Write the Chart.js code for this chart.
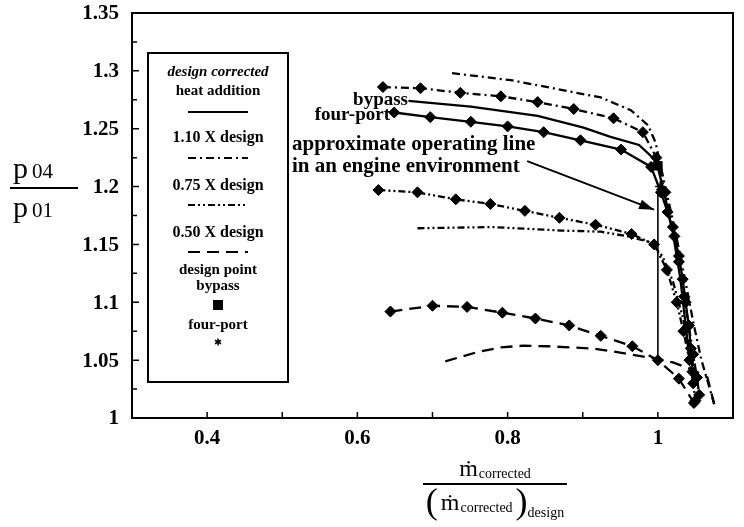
<!DOCTYPE html>
<html>
<head>
<meta charset="utf-8">
<script src="https://cdn.jsdelivr.net/npm/chart.js@4"></script>
<style>
  html, body { margin: 0; padding: 0; background: #fff; }
</style>
</head>
<body>
<canvas id="perfChart" width="744" height="527"></canvas>
<script>
// Mass flow ratio (x) vs. pressure ratio p04/p01 (y)

// design heat addition
const designBypassX   = [0.668, 0.751, 0.840, 0.901, 0.937, 0.975, 0.998, 1.010, 1.020, 1.030, 1.037, 1.042];
const designBypassY   = [1.274, 1.269, 1.261, 1.251, 1.243, 1.236, 1.222, 1.190, 1.160, 1.120, 1.080, 1.050];
const designFourPortX = [0.649, 0.697, 0.751, 0.800, 0.848, 0.897, 0.951, 0.991, 1.004, 1.013, 1.022, 1.028, 1.033, 1.037, 1.041, 1.044, 1.046];
const designFourPortY = [1.264, 1.260, 1.256, 1.252, 1.247, 1.240, 1.232, 1.217, 1.195, 1.178, 1.157, 1.140, 1.120, 1.100, 1.080, 1.060, 1.040];

// 1.10 X design
const high110BypassX   = [0.726, 0.804, 0.884, 0.924, 0.964, 0.987, 0.997, 1.008, 1.022, 1.036, 1.048, 1.058, 1.067, 1.075];
const high110BypassY   = [1.298, 1.292, 1.282, 1.277, 1.266, 1.253, 1.238, 1.205, 1.165, 1.120, 1.080, 1.050, 1.030, 1.012];
const high110FourPortX = [0.634, 0.684, 0.737, 0.791, 0.840, 0.888, 0.941, 0.980, 0.998, 1.010, 1.020, 1.028, 1.035, 1.041, 1.047, 1.052, 1.055];
const high110FourPortY = [1.286, 1.285, 1.281, 1.278, 1.273, 1.267, 1.259, 1.247, 1.225, 1.195, 1.165, 1.135, 1.105, 1.080, 1.055, 1.035, 1.020];

// 0.75 X design
const mid075FourPortX = [0.628, 0.680, 0.731, 0.777, 0.823, 0.869, 0.917, 0.965, 0.995, 1.012, 1.025, 1.034, 1.042, 1.047, 1.050];
const mid075FourPortY = [1.197, 1.195, 1.189, 1.185, 1.179, 1.173, 1.167, 1.159, 1.150, 1.128, 1.100, 1.075, 1.050, 1.030, 1.015];
const mid075BypassX   = [0.680, 0.781, 0.871, 0.924, 0.960, 0.990, 1.006, 1.020, 1.032, 1.041, 1.048, 1.053];
const mid075BypassY   = [1.164, 1.165, 1.162, 1.161, 1.157, 1.152, 1.140, 1.118, 1.090, 1.065, 1.042, 1.025];

// 0.50 X design
const low050FourPortX = [0.644, 0.700, 0.746, 0.793, 0.837, 0.882, 0.924, 0.966, 1.000, 1.028, 1.048];
const low050FourPortY = [1.092, 1.097, 1.096, 1.091, 1.086, 1.080, 1.071, 1.062, 1.050, 1.034, 1.013];
const low050BypassX   = [0.717, 0.760, 0.791, 0.821, 0.853, 0.884, 0.915, 0.946, 0.981, 1.000, 1.020, 1.045, 1.066, 1.075];
const low050BypassY   = [1.049, 1.057, 1.061, 1.0625, 1.062, 1.061, 1.060, 1.057, 1.053, 1.051, 1.048, 1.042, 1.035, 1.012];

// design points and operating line
const designPointBypass   = [1.0, 1.218];
const designPointFourPort = [1.003, 1.200];
const operatingLineX = [1.0, 1.0];
const operatingLineY = [1.051, 1.195];
const arrowFrom = [0.826, 1.222];
const arrowTo   = [0.995, 1.180];

// tick labels
const xTickLabels = ['0.4', '0.6', '0.8', '1'];
const yTickLabels = ['1', '1.05', '1.1', '1.15', '1.2', '1.25', '1.3', '1.35'];

// line styles
const DASH_SOLID = [];
const DASH_110 = [8, 4, 2, 4];
const DASH_075 = [7, 3, 2, 3, 2, 3];
const DASH_050 = [12, 7];

const SERIF = '"Liberation Serif", "DejaVu Serif", serif';

function toPoints(xs, ys) {
    return xs.map((x, i) => ({ x: x, y: ys[i] }));
}

function curve(label, xs, ys, dash, withDiamonds) {
    return {
        label: label,
        data: toPoints(xs, ys),
        showLine: true,
        borderColor: '#000',
        borderWidth: 2.3,
        borderDash: dash,
        pointStyle: 'rectRot',
        pointRadius: withDiamonds ? 5.5 : 0,
        pointHoverRadius: 0,
        pointBackgroundColor: '#000',
        pointBorderColor: '#000',
        pointBorderWidth: 1,
        tension: 0,
        fill: false
    };
}

// draws a row of text pieces with different fonts
function drawRuns(ctx, runs, x, baseline) {
    runs.forEach(r => {
        ctx.font = r.font;
        ctx.fillText(r.t, x, baseline + (r.dy || 0));
        x += ctx.measureText(r.t).width + (r.gap || 0);
    });
}
function runsWidth(ctx, runs) {
    let w = 0;
    runs.forEach(r => { ctx.font = r.font; w += ctx.measureText(r.t).width + (r.gap || 0); });
    return w;
}

function drawAsterisk(ctx, cx, cy, r) {
    ctx.save();
    ctx.lineWidth = 1.5;
    ctx.setLineDash([]);
    ctx.beginPath();
    for (let k = 0; k < 3; k++) {
        const a = Math.PI / 2 + k * Math.PI / 3;
        ctx.moveTo(cx - r * Math.cos(a), cy - r * Math.sin(a));
        ctx.lineTo(cx + r * Math.cos(a), cy + r * Math.sin(a));
    }
    ctx.stroke();
    ctx.restore();
}

const decorations = {
    id: 'decorations',
    afterDraw(chart) {
        const ctx = chart.ctx;
        const area = chart.chartArea;
        const xs = chart.scales.x, ys = chart.scales.y;
        ctx.save();
        ctx.strokeStyle = '#000';
        ctx.fillStyle = '#000';

        // frame
        ctx.lineWidth = 2;
        ctx.strokeRect(area.left, area.top, area.right - area.left, area.bottom - area.top);

        // inward ticks
        ctx.lineWidth = 1.5;
        ctx.beginPath();
        for (let i = 0; i <= 14; i++) {
            const py = ys.getPixelForValue(1 + i * 0.025);
            const len = i % 2 === 0 ? 7 : 5;
            ctx.moveTo(area.left, py);
            ctx.lineTo(area.left + len, py);
        }
        for (let i = 0; i <= 8; i++) {
            const px = xs.getPixelForValue(0.3 + i * 0.1);
            ctx.moveTo(px, area.bottom);
            ctx.lineTo(px, area.bottom - 6);
        }
        ctx.stroke();

        // tick labels
        ctx.font = 'bold 21px ' + SERIF;
        ctx.textBaseline = 'middle';
        ctx.textAlign = 'right';
        yTickLabels.forEach(t => ctx.fillText(t, area.left - 13, ys.getPixelForValue(parseFloat(t)) + 1));
        ctx.textAlign = 'center';
        xTickLabels.forEach(t => ctx.fillText(t, xs.getPixelForValue(parseFloat(t)), area.bottom + 21));

        // annotation text
        ctx.font = 'bold 19px ' + SERIF;
        ctx.textAlign = 'right';
        ctx.fillText('bypass', 408, 100);
        ctx.fillText('four-port', 390, 115);
        ctx.textAlign = 'left';
        ctx.font = 'bold 21px ' + SERIF;
        ctx.fillText('approximate operating line', 292, 145);
        ctx.fillText('in an engine environment', 292, 167);

        // arrow to operating line
        const ax0 = xs.getPixelForValue(arrowFrom[0]), ay0 = ys.getPixelForValue(arrowFrom[1]);
        const ax1 = xs.getPixelForValue(arrowTo[0]), ay1 = ys.getPixelForValue(arrowTo[1]);
        ctx.lineWidth = 1.8;
        ctx.beginPath();
        ctx.moveTo(ax0, ay0);
        ctx.lineTo(ax1, ay1);
        ctx.stroke();
        const ang = Math.atan2(ay1 - ay0, ax1 - ax0);
        ctx.beginPath();
        ctx.moveTo(ax1, ay1);
        ctx.lineTo(ax1 - 15 * Math.cos(ang) + 5 * Math.sin(ang), ay1 - 15 * Math.sin(ang) - 5 * Math.cos(ang));
        ctx.lineTo(ax1 - 15 * Math.cos(ang) - 5 * Math.sin(ang), ay1 - 15 * Math.sin(ang) + 5 * Math.cos(ang));
        ctx.closePath();
        ctx.fill();

        // legend box
        const lx = 148, ly = 53, lw = 140, lh = 329, cx = lx + lw / 2;
        ctx.fillStyle = '#fff';
        ctx.fillRect(lx, ly, lw, lh);
        ctx.fillStyle = '#000';
        ctx.lineWidth = 2;
        ctx.strokeRect(lx, ly, lw, lh);
        ctx.textAlign = 'center';
        ctx.font = 'italic bold 15px ' + SERIF;
        ctx.fillText('design corrected', cx, 72);
        ctx.font = 'bold 15px ' + SERIF;
        ctx.fillText('heat addition', cx, 91);
        ctx.font = 'bold 16px ' + SERIF;
        ctx.fillText('1.10 X design', cx, 138);
        ctx.fillText('0.75 X design', cx, 186);
        ctx.fillText('0.50 X design', cx, 233);
        ctx.font = 'bold 15px ' + SERIF;
        ctx.fillText('design point', cx, 270);
        ctx.fillText('bypass', cx, 286);
        ctx.fillText('four-port', cx, 325);
        ctx.fillRect(cx - 5, 300, 10, 10);
        drawAsterisk(ctx, cx, 342, 3.5);

        const samples = [[112, DASH_SOLID], [158, DASH_110], [205, DASH_075], [252, DASH_050]];
        ctx.lineWidth = 2.2;
        samples.forEach(s => {
            ctx.setLineDash(s[1]);
            ctx.beginPath();
            ctx.moveTo(cx - 30, s[0]);
            ctx.lineTo(cx + 30, s[0]);
            ctx.stroke();
        });
        ctx.setLineDash([]);

        // y axis title  p04 / p01
        ctx.textAlign = 'left';
        ctx.textBaseline = 'alphabetic';
        const pBig = '30px ' + SERIF, pSmall = '21px ' + SERIF;
        drawRuns(ctx, [{ t: 'p', font: pBig, gap: 4 }, { t: '04', font: pSmall }], 13, 178);
        ctx.lineWidth = 2;
        ctx.beginPath();
        ctx.moveTo(10, 188);
        ctx.lineTo(78, 188);
        ctx.stroke();
        drawRuns(ctx, [{ t: 'p', font: pBig, gap: 4 }, { t: '01', font: pSmall }], 13, 217);

        // x axis title  m_corrected / (m_corrected)_design
        const mFont = '24px ' + SERIF, subFont = '14px ' + SERIF, parFont = '36px ' + SERIF;
        const num = [{ t: '\u1E41', font: mFont, gap: 1 }, { t: 'corrected', font: subFont, dy: 2 }];
        const den = [{ t: '(', font: parFont, dy: 3, gap: 3 }, { t: '\u1E41', font: mFont, gap: 1 },
                     { t: 'corrected', font: subFont, dy: 2, gap: 3 }, { t: ')', font: parFont, dy: 3 },
                     { t: 'design', font: subFont, dy: 7 }];
        const tcx = 495;
        drawRuns(ctx, num, tcx - runsWidth(ctx, num) / 2, 476);
        ctx.beginPath();
        ctx.moveTo(tcx - 72, 484);
        ctx.lineTo(tcx + 72, 484);
        ctx.stroke();
        drawRuns(ctx, den, tcx - runsWidth(ctx, den) / 2, 510);

        ctx.restore();
    }
};

new Chart(document.getElementById('perfChart'), {
    type: 'scatter',
    data: {
        datasets: [
            curve('design bypass', designBypassX, designBypassY, DASH_SOLID, false),
            curve('design four-port', designFourPortX, designFourPortY, DASH_SOLID, true),
            curve('1.10 X design bypass', high110BypassX, high110BypassY, DASH_110, false),
            curve('1.10 X design four-port', high110FourPortX, high110FourPortY, DASH_110, true),
            curve('0.75 X design four-port', mid075FourPortX, mid075FourPortY, DASH_075, true),
            curve('0.75 X design bypass', mid075BypassX, mid075BypassY, DASH_075, false),
            curve('0.50 X design four-port', low050FourPortX, low050FourPortY, DASH_050, true),
            curve('0.50 X design bypass', low050BypassX, low050BypassY, DASH_050, false),
            {
                label: 'operating line',
                data: toPoints(operatingLineX, operatingLineY),
                showLine: true, borderColor: '#000', borderWidth: 1.6, pointRadius: 0
            },
            {
                label: 'design point bypass',
                data: [{ x: designPointBypass[0], y: designPointBypass[1] }],
                pointStyle: 'rect', pointRadius: 6, backgroundColor: '#000', borderColor: '#000'
            },
            {
                label: 'design point four-port',
                data: [{ x: designPointFourPort[0], y: designPointFourPort[1] }],
                pointStyle: 'star', pointRadius: 5, borderWidth: 1.5, borderColor: '#000'
            }
        ]
    },
    options: {
        responsive: false,
        animation: false,
        devicePixelRatio: 1,
        layout: { padding: { top: 13, right: 11, left: 0, bottom: 0 } },
        plugins: { legend: { display: false }, tooltip: { enabled: false } },
        scales: {
            x: {
                type: 'linear', min: 0.3, max: 1.1,
                grid: { display: false, drawTicks: false },
                border: { display: false },
                ticks: { display: false },
                afterFit: s => { s.height = 109; }
            },
            y: {
                type: 'linear', min: 1, max: 1.35,
                grid: { display: false, drawTicks: false },
                border: { display: false },
                ticks: { display: false },
                afterFit: s => { s.width = 132; }
            }
        }
    },
    plugins: [decorations]
});
</script>
</body>
</html>
